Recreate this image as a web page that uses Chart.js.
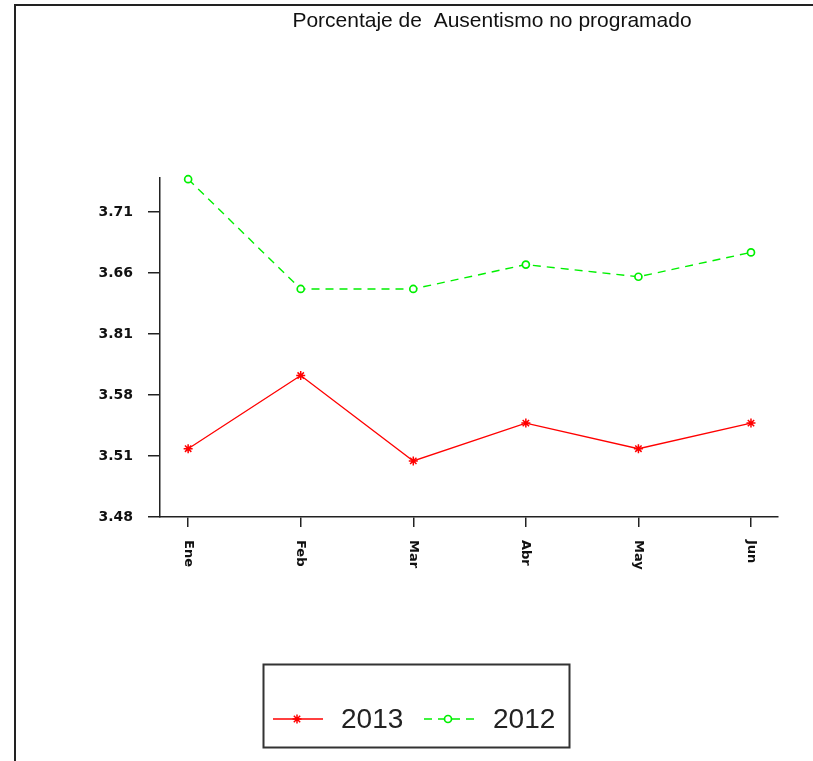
<!DOCTYPE html>
<html>
<head>
<meta charset="utf-8">
<script src="https://cdn.jsdelivr.net/npm/chart.js@4"></script>
<style>
    body { margin: 0; background: #fff; }
    #wrap { position: relative; width: 813px; height: 761px; }
    #frame { position: absolute; left: 14px; top: 4px; right: 0; bottom: 0; border-left: 2px solid #222; border-top: 2px solid #222; }
    canvas { position: absolute; left: 0; top: 0; }
</style>
</head>
<body>
<div id="wrap">
    <div id="frame"></div>
    <canvas id="ausChart" width="813" height="761"></canvas>
</div>
<script>
const meses = ["Ene", "Feb", "Mar", "Abr", "May", "Jun"];
const valores2013 = [3.516, 3.576, 3.506, 3.537, 3.516, 3.537];
const valores2012 = [3.737, 3.647, 3.647, 3.667, 3.657, 3.677];
const yTicks = [3.46, 3.51, 3.56, 3.61, 3.66, 3.71];
const yTickLabels = ["3.48", "3.51", "3.58", "3.81", "3.66", "3.71"];
const titulo = "Porcentaje de  Ausentismo no programado";

const ctx = document.getElementById("ausChart");

const serie2013 = {
    label: "2013",
    data: valores2013.map((v, i) => ({ x: i, y: v })),
    borderColor: 'rgb(255, 0, 0)',
    backgroundColor: 'rgb(255, 0, 0)',
    borderWidth: 1.3,
    pointStyle: 'star',
    pointRadius: 4.5,
    pointBorderWidth: 1.5,
    pointBorderColor: 'rgb(255, 0, 0)',
    pointBackgroundColor: 'rgb(255, 0, 0)',
    lineTension: 0,
    clip: false,
    fill: false
};

const serie2012 = {
    label: "2012",
    data: valores2012.map((v, i) => ({ x: i, y: v })),
    borderColor: 'rgb(0, 240, 0)',
    backgroundColor: '#fff',
    borderWidth: 1.4,
    borderDash: [8, 6],
    pointStyle: 'circle',
    pointRadius: 3.5,
    pointBorderWidth: 1.7,
    pointBorderColor: 'rgb(0, 240, 0)',
    pointBackgroundColor: '#fff',
    lineTension: 0,
    clip: false,
    fill: false
};

// titulo, etiquetas del eje x giradas y leyenda con recuadro
const extras = {
    id: 'extras',
    afterDraw(chart) {
        const c = chart.ctx;
        const xs = chart.scales.x;
        c.save();
        c.fillStyle = '#111';
        c.font = "21px 'Liberation Sans'";
        c.textAlign = 'center';
        c.textBaseline = 'middle';
        c.fillText(titulo, 492, 21);

        c.font = "bold 13px 'DejaVu Sans'";
        c.textAlign = 'left';
        meses.forEach((m, i) => {
            const px = xs.getPixelForValue(i);
            c.save();
            c.translate(px, xs.top + 23);
            c.rotate(Math.PI / 2);
            c.fillText(m, 0, 0);
            c.restore();
        });

        // leyenda
        c.strokeStyle = '#333';
        c.lineWidth = 2;
        c.strokeRect(263.5, 664.5, 306, 83);
        const ly = 719;
        c.font = "28px 'Liberation Sans'";
        c.textAlign = 'left';
        c.textBaseline = 'middle';
        [[serie2013, 273, 341], [serie2012, 424, 493]].forEach(([s, x0, tx]) => {
            c.save();
            c.strokeStyle = s.borderColor;
            c.lineWidth = s.borderWidth;
            c.setLineDash(s.borderDash || []);
            c.beginPath();
            c.moveTo(x0, ly);
            c.lineTo(x0 + 50, ly);
            c.stroke();
            c.setLineDash([]);
            c.strokeStyle = s.pointBorderColor;
            c.fillStyle = s.pointBackgroundColor;
            c.lineWidth = s.pointBorderWidth;
            Chart.helpers.drawPoint(c, {
                pointStyle: s.pointStyle,
                radius: s.pointRadius,
                borderWidth: s.pointBorderWidth
            }, x0 + 24, ly);
            c.restore();
            c.fillStyle = '#222';
            c.fillText(s.label, tx, ly + 1);
        });
        c.restore();
    }
};

const config = {
    type: 'line',
    data: { datasets: [serie2013, serie2012] },
    plugins: [extras],
    options: {
        responsive: false,
        animation: false,
        layout: { padding: { top: 178, right: 35, left: 0, bottom: 0 } },
        plugins: {
            legend: { display: false },
            title: { display: false },
            tooltip: { enabled: false }
        },
        scales: {
            x: {
                type: 'linear',
                min: -0.25,
                max: 5.24,
                afterBuildTicks: (s) => { s.ticks = meses.map((m, i) => ({ value: i })); },
                afterFit: (s) => { s.height = 244; },
                ticks: { display: false },
                grid: { drawOnChartArea: false, drawTicks: true, tickLength: 10, color: '#222', lineWidth: 1.5 },
                border: { display: true, color: '#222', width: 1.5 }
            },
            y: {
                min: 3.46,
                max: 3.738,
                afterBuildTicks: (s) => { s.ticks = yTicks.map(v => ({ value: v })); },
                afterFit: (s) => { s.width = 160; },
                ticks: {
                    color: '#111',
                    padding: 15,
                    font: { family: 'DejaVu Sans', size: 14, weight: 'bold' },
                    callback: (v) => {
                        const i = yTicks.findIndex(t => Math.abs(t - v) < 1e-6);
                        return i >= 0 ? yTickLabels[i] : '';
                    }
                },
                grid: { drawOnChartArea: false, drawTicks: true, tickLength: 12, color: '#222', lineWidth: 1.5 },
                border: { display: true, color: '#222', width: 1.5 }
            }
        }
    }
};

const lineChart = new Chart(ctx, config);
</script>
</body>
</html>
